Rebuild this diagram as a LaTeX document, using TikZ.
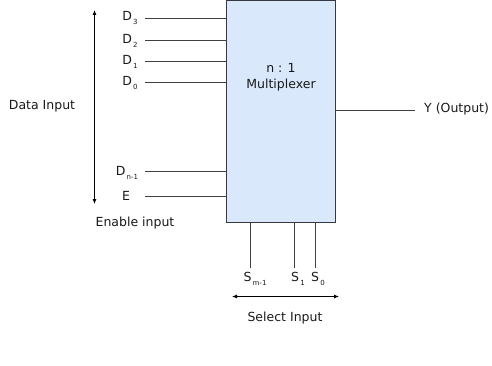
\documentclass[tikz,border=0pt]{standalone}
\usepackage{fontspec}
\setmainfont{DejaVu Sans}
\usetikzlibrary{arrows.meta}
\definecolor{boxfill}{HTML}{DAE8FC}
\definecolor{boxline}{HTML}{36393D}
\newcommand\lowidx[1]{\kern1.2pt\raisebox{-0.5ex}{\fontsize{7}{8}\selectfont #1}}
\begin{document}
\begin{tikzpicture}[x=1pt,y=-1pt,
  every node/.style={font=\fontsize{12.5}{16}\selectfont, text=black!90, inner sep=0pt},
  wire/.style={draw=black!75, line width=0.9pt},
  span/.style={draw=black, line width=0.8pt, {Latex[length=5pt,width=4pt]}-{Latex[length=5pt,width=4pt]}},
  muxbox/.style={draw=boxline, fill=boxfill, line width=0.9pt,
    minimum width=109pt, minimum height=222pt, inner sep=0pt}]
  \useasboundingbox (0,0) rectangle (492,366);

  % the multiplexer block
  \node[muxbox] (mux) at (280.5,111.5) {};
  \node[align=center] (title) at (281,77.5) {n : 1\\Multiplexer};

  % data and enable inputs
  \foreach \n/\y in {d3/18.5, d2/40.5, d1/61, d0/82.5, dn/171, en/196.5}{
    \coordinate (\n s) at (145,\y);
    \draw[wire] (\n s) -- (\n s -| mux.west);
  }
  \node (ld3) at (130,18) {D\lowidx{3}};
  \node (ld2) at (130,41) {D\lowidx{2}};
  \node (ld1) at (130,62) {D\lowidx{1}};
  \node (ld0) at (130,83) {D\lowidx{0}};
  \node (ldn) at (127,173) {D\lowidx{n-1}};
  \node (len) at (126,196) {E};

  % data input span
  \coordinate (dtop) at (94.5,10);
  \coordinate (dbot) at (94.5,204);
  \draw[span] (dtop) -- (dbot);
  \node (datalab) at (42,106) {Data Input};
  \node (enlab) at (135,223) {Enable input};

  % output
  \coordinate (yend) at (415,110);
  \draw[wire] (yend -| mux.east) -- (yend);
  \node[anchor=west] (ylab) at (424,109) {Y (Output)};

  % select lines
  \foreach \n/\x in {sm/250, s1/294.5, s0/315.5}{
    \coordinate (\n e) at (\x,268);
    \draw[wire] (\n e |- mux.south) -- (\n e);
  }
  \node (lsm) at (255,279) {S\lowidx{m-1}};
  \node (ls1) at (298,279) {S\lowidx{1}};
  \node (ls0) at (318,279) {S\lowidx{0}};

  % select input span
  \coordinate (sl) at (232,296.5);
  \coordinate (sr) at (339,296.5);
  \draw[span] (sl) -- (sr);
  \node (sellab) at (285,318) {Select Input};
\end{tikzpicture}
\end{document}
